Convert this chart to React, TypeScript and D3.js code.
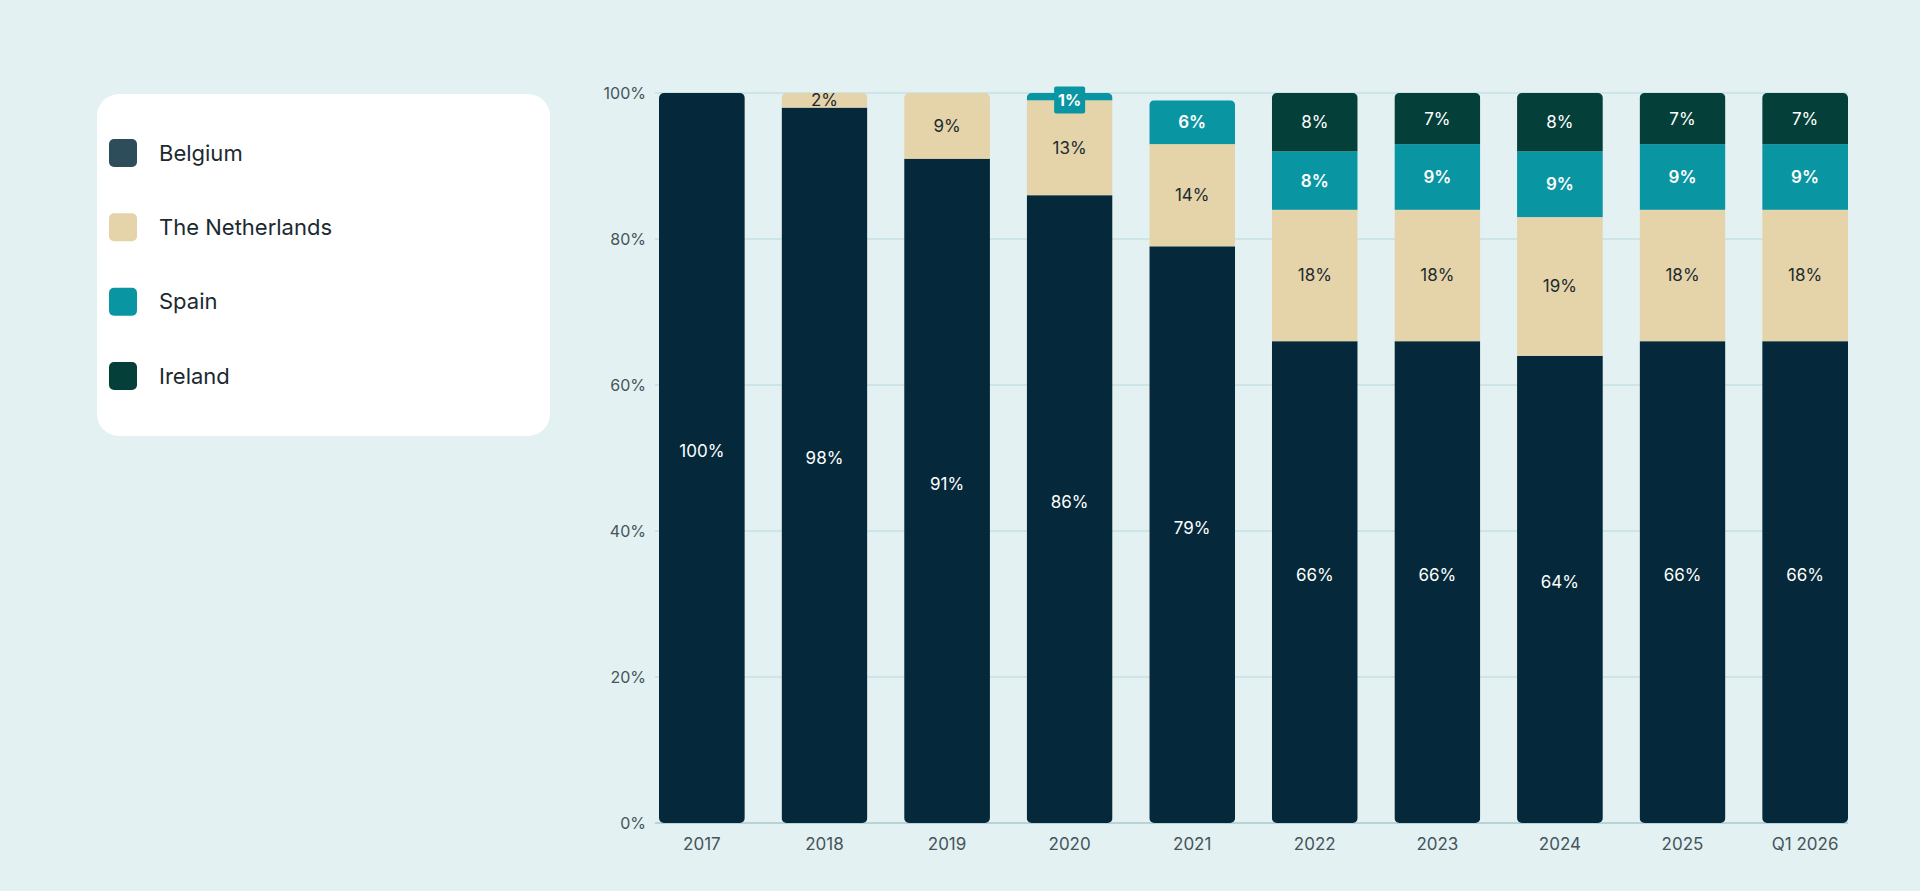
import React, { useRef, useEffect } from "react";
import * as d3 from "d3";

// datos (porcentaje por país)
const categories = ["2017", "2018", "2019", "2020", "2021", "2022", "2023", "2024", "2025", "Q1 2026"];
const belgium = [100, 98, 91, 86, 79, 66, 66, 64, 66, 66];
const netherlands = [0, 2, 9, 13, 14, 18, 18, 19, 18, 18];
const spain = [0, 0, 0, 1, 6, 8, 9, 9, 9, 9];
const ireland = [0, 0, 0, 0, 0, 8, 7, 8, 7, 7];
const seriesNames = ["Belgium", "The Netherlands", "Spain", "Ireland"];
const yTicks = [0, 20, 40, 60, 80, 100];

const barColors = ["#05293a", "#e5d4a9", "#0a95a3", "#053f3a"];
const legendColors = ["#2e4d5a", "#e5d4a9", "#0a95a3", "#053f3a"];
const labelColors = ["#ffffff", "#1d2a30", "#ffffff", "#ffffff"];
const labelWeights = [400, 400, 600, 400];

const FONT = "Inter, 'Noto Sans', sans-serif";

const App = () => {
    const svgRef = useRef(null);

    useEffect(() => {
        document.body.style.margin = "0";
        const svg = d3.select(svgRef.current);
        svg.selectAll("*").remove();

        const W = 1920, H = 891;
        svg.attr("width", W).attr("height", H);

        svg.append("rect").attr("width", W).attr("height", H).attr("fill", "#e3f1f3");

        // tabla para el apilamiento
        const rows = categories.map((c, i) => ({
            cat: c,
            "Belgium": belgium[i],
            "The Netherlands": netherlands[i],
            "Spain": spain[i],
            "Ireland": ireland[i],
        }));
        const stacked = d3.stack().keys(seriesNames)(rows);

        const x = d3.scaleBand().domain(categories).range([659, 1848]).paddingInner(0.3).paddingOuter(0);
        const y = d3.scaleLinear().domain([0, 100]).range([823, 93]);

        // líneas de la cuadrícula
        const grid = svg.append("g");
        yTicks.forEach(t => {
            grid.append("line")
                .attr("x1", 655).attr("x2", 1848)
                .attr("y1", y(t)).attr("y2", y(t))
                .attr("stroke", t === 0 ? "#a8c9ce" : "#b7d8dd")
                .attr("stroke-width", t === 0 ? 1.5 : 1);
            grid.append("text")
                .attr("x", 646).attr("y", y(t))
                .attr("dy", "0.35em")
                .attr("text-anchor", "end")
                .style("font-family", FONT).style("font-size", "16px")
                .attr("fill", "#44555b")
                .text(`${t}%`);
        });

        // clip redondeado por barra
        const defs = svg.append("defs");
        rows.forEach((r, i) => {
            const total = seriesNames.reduce((s, k) => s + r[k], 0);
            defs.append("clipPath").attr("id", `clip-${i}`)
                .append("rect")
                .attr("x", x(r.cat)).attr("y", y(total))
                .attr("width", x.bandwidth()).attr("height", y(0) - y(total))
                .attr("rx", 5);
        });

        const bars = svg.append("g");
        rows.forEach((r, i) => {
            const g = bars.append("g").attr("clip-path", `url(#clip-${i})`);
            stacked.forEach((layer, li) => {
                const d = layer[i];
                if (d[1] - d[0] <= 0) return;
                g.append("rect")
                    .attr("x", x(r.cat)).attr("y", y(d[1]))
                    .attr("width", x.bandwidth()).attr("height", y(d[0]) - y(d[1]))
                    .attr("fill", barColors[li]);
            });
        });

        // etiquetas de los segmentos
        const labels = svg.append("g").style("font-family", FONT).style("font-size", "17px");
        stacked.forEach((layer, li) => {
            layer.forEach((d, i) => {
                const v = d[1] - d[0];
                if (v <= 0) return;
                const cx = x(categories[i]) + x.bandwidth() / 2;
                const h = y(d[0]) - y(d[1]);
                if (h < 10) {
                    // segmento muy pequeño: etiqueta en caja
                    const cy = y(d[1]) + 7;
                    labels.append("rect")
                        .attr("x", cx - 15.5).attr("y", cy - 13.5)
                        .attr("width", 31).attr("height", 27)
                        .attr("rx", 2)
                        .attr("fill", barColors[li]);
                    labels.append("text")
                        .attr("x", cx).attr("y", cy)
                        .attr("dy", "0.35em")
                        .attr("text-anchor", "middle")
                        .attr("fill", labelColors[li])
                        .attr("font-weight", 700)
                        .style("font-size", "16px")
                        .text(`${v}%`);
                    return;
                }
                labels.append("text")
                    .attr("x", cx).attr("y", (y(d[0]) + y(d[1])) / 2 - (li === 0 ? 7 : 0))
                    .attr("dy", "0.35em")
                    .attr("text-anchor", "middle")
                    .attr("fill", labelColors[li])
                    .attr("font-weight", labelWeights[li])
                    .text(`${v}%`);
            });
        });

        // eje X
        svg.append("g").selectAll("text")
            .data(categories)
            .enter()
            .append("text")
            .attr("x", d => x(d) + x.bandwidth() / 2)
            .attr("y", 844)
            .attr("dy", "0.35em")
            .attr("text-anchor", "middle")
            .style("font-family", FONT).style("font-size", "17px")
            .attr("fill", "#44555b")
            .text(d => d);

        // leyenda
        const legend = svg.append("g");
        legend.append("rect")
            .attr("x", 97).attr("y", 94)
            .attr("width", 453).attr("height", 342)
            .attr("rx", 22)
            .attr("fill", "#ffffff");

        const legendY = d3.scalePoint().domain(seriesNames).range([153, 376]);
        seriesNames.forEach((name, i) => {
            legend.append("rect")
                .attr("x", 109).attr("y", legendY(name) - 14)
                .attr("width", 28).attr("height", 28)
                .attr("rx", 5)
                .attr("fill", legendColors[i]);
            legend.append("text")
                .attr("x", 159).attr("y", legendY(name))
                .attr("dy", "0.35em")
                .style("font-family", FONT).style("font-size", "22px")
                .attr("fill", "#1b2a30")
                .text(name);
        });
    }, []);

    return (
        <div style={{ width: 1920, height: 891 }}>
            <svg ref={svgRef} style={{ display: "block" }}></svg>
        </div>
    );
};

export default App;
